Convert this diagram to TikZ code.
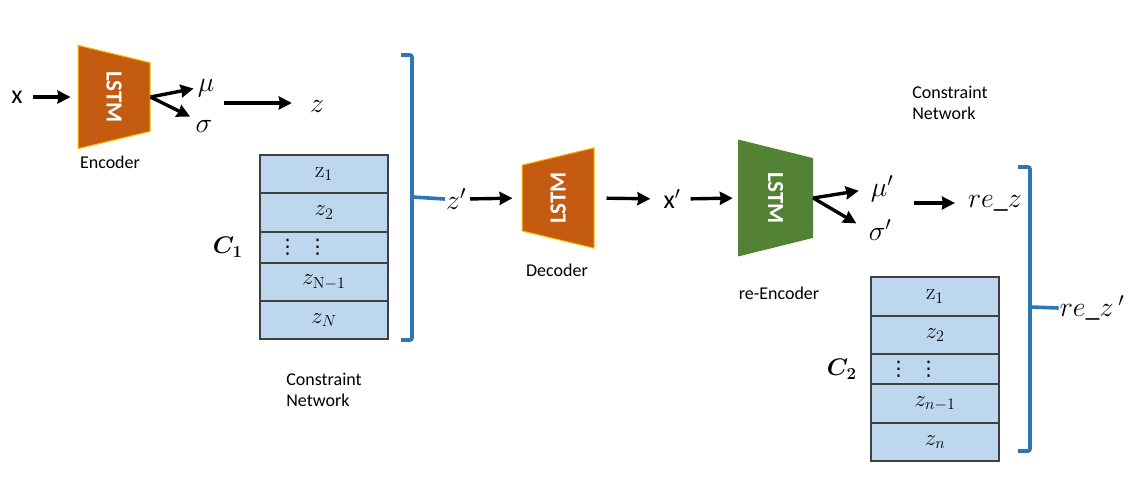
\RequirePackage{fix-cm}
\documentclass[tikz,border=0pt]{standalone}
\usepackage{amsmath}
\usepackage{amssymb}
\usepackage{bm}
\usepackage[no-math]{fontspec}
\setmainfont{Carlito}
\newfontfamily\dotsfont{DejaVu Sans}
\usepackage{tikz}
\usetikzlibrary{positioning, shapes, arrows.meta}
\definecolor{encorange}{HTML}{C55A11}
\definecolor{encgold}{HTML}{FFC000}
\definecolor{encgreen}{HTML}{548235}
\definecolor{rowblue}{HTML}{BDD7EE}
\definecolor{brkblue}{HTML}{2E75B6}

\begin{document}
\begin{tikzpicture}
	[x=1pt, y=-1pt,
	 lstm/.style={trapezium, trapezium angle=76.5, text=white, text height=15pt, text depth=0pt,
	                    font=\fontsize{23}{26}\selectfont\bfseries, inner ysep=28.5pt},
	 row/.style={draw=black!75, line width=1.2pt, fill=rowblue, minimum width=128pt,
	                    inner sep=0pt, outer sep=0pt, font=\fontsize{23}{26}\selectfont},
	 dotrow/.style={row, font=\dotsfont\fontsize{20}{22}\selectfont},
	 lbl/.style={font=\fontsize{18}{21}\selectfont},
	 sym/.style={font=\fontsize{28}{32}\selectfont, inner sep=1pt},
	 sans/.style={font=\fontsize{26}{30}\selectfont, inner sep=1pt},
	 clbl/.style={font=\fontsize{24}{28}\selectfont},
	 arr/.style={draw=black, line width=3.4pt, -{Stealth[length=13pt, width=13pt, inset=1pt]}},
	 brk/.style={draw=brkblue, line width=3.6pt, rounded corners=2pt}]
	\useasboundingbox (0,0) rectangle (1139,482);

	% encoder
	\node[sans] (x) at (17,97) {x};
	\node[lstm, fill=encorange, draw=encgold, line width=1pt, rotate=-90,
	      inner xsep=8.5pt] (enc) at (114,97) {LSTM};
	\node[lbl] (enclbl) at (110,162) {Encoder};
	\node[sym] (mu) at (206,88) {$\mu$};
	\node[sym] (sig) at (204,126) {$\sigma$};
	\coordinate (ms) at (224,103);
	\node[sym] (z) at (317,106) {$z$};

	\draw[arr, shorten <=9pt, shorten >=7pt] (x.east) -- (enc.south);
	\draw[arr, shorten >=3pt] (enc.north) -- (mu.west);
	\draw[arr, shorten >=5pt] (enc.north) -- (sig.north west);
	\draw[arr, shorten >=17pt] (ms) -- (ms -| z.west);

	% constraint network 1
	\node[row, minimum height=38pt] (c1a) at (324,174) {$\mathrm{z}_1$};
	\node[row, minimum height=39pt, below=0pt of c1a] (c1b) {$z_2$};
	\node[dotrow, minimum height=31pt, below=0pt of c1b] (c1c)
	      {⋮\hspace{10pt}⋮\rule{43pt}{0pt}};
	\node[row, minimum height=38pt, below=0pt of c1c] (c1d) {$z_{\mathrm{N}-1}$};
	\node[row, minimum height=38pt, below=0pt of c1d] (c1e) {$z_N$};
	\node[clbl, left=14pt of c1c] (c1) {$\bm{C_1}$};
	\node[lbl, align=left] (cn1) at (324,390) {Constraint\\Network};

	\draw[brk] (401,55) -- (412,55) -- (412,340) -- (401,340);
	\coordinate (b1) at (412,197);
	\node[sym] (zp) at (456,199) {$z'$};
	\draw[brk] (b1) -- (zp.west);

	% decoder
	\node[lstm, fill=encorange, draw=encgold, line width=1pt, rotate=90,
	      inner xsep=7pt] (dec) at (558,198) {LSTM};
	\node[lbl] (declbl) at (557,270) {Decoder};
	\node[sans] (xp) at (672,199) {x$'$};
	\draw[arr, shorten <=3pt, shorten >=9pt] (zp.east) -- (dec.north);
	\draw[arr, shorten <=12pt, shorten >=12pt] (dec.south) -- (xp.west);

	% re-encoder
	\node[lstm, fill=encgreen, rotate=-90, trapezium angle=76.1,
	      inner ysep=30pt, inner xsep=14pt] (renc) at (775.5,198) {LSTM};
	\node[lbl] (renclbl) at (779,293) {re-Encoder};
	\node[lbl, align=left] (cn2) at (950,103) {Constraint\\Network};
	\node[sym] (mup) at (882,189) {$\mu'$};
	\node[sym] (sigp) at (880,230) {$\sigma'$};
	\coordinate (ms2) at (914,203);
	\node[sym] (rez) at (995,203) {$re\_z$};
	\draw[arr, shorten <=9pt, shorten >=5pt] (xp.east) -- (renc.south);
	\draw[arr, shorten >=11pt] (renc.north) -- (mup.west);
	\draw[arr, shorten >=13pt] (renc.north) -- (sigp.west);
	\draw[arr, shorten >=12pt] (ms2) -- (rez.west);

	% constraint network 2
	\node[row, minimum height=39pt] (c2a) at (935,296.5) {$\mathrm{z}_1$};
	\node[row, minimum height=38pt, below=0pt of c2a] (c2b) {$z_2$};
	\node[dotrow, minimum height=30pt, below=0pt of c2b] (c2c)
	      {⋮\hspace{10pt}⋮\rule{43pt}{0pt}};
	\node[row, minimum height=39pt, below=0pt of c2c] (c2d) {$z_{n-1}$};
	\node[row, minimum height=38pt, below=0pt of c2d] (c2e) {$z_n$};
	\node[clbl, left=11pt of c2c] (c2) {$\bm{C_2}$};

	\draw[brk] (1018,167) -- (1030,167) -- (1030,451) -- (1018,451);
	\coordinate (b2) at (1030,307);
	\node[sym] (rezp) at (1092,308) {$re\_z\,'$};
	\draw[brk] (b2) -- (rezp.west);
\end{tikzpicture}
\end{document}
